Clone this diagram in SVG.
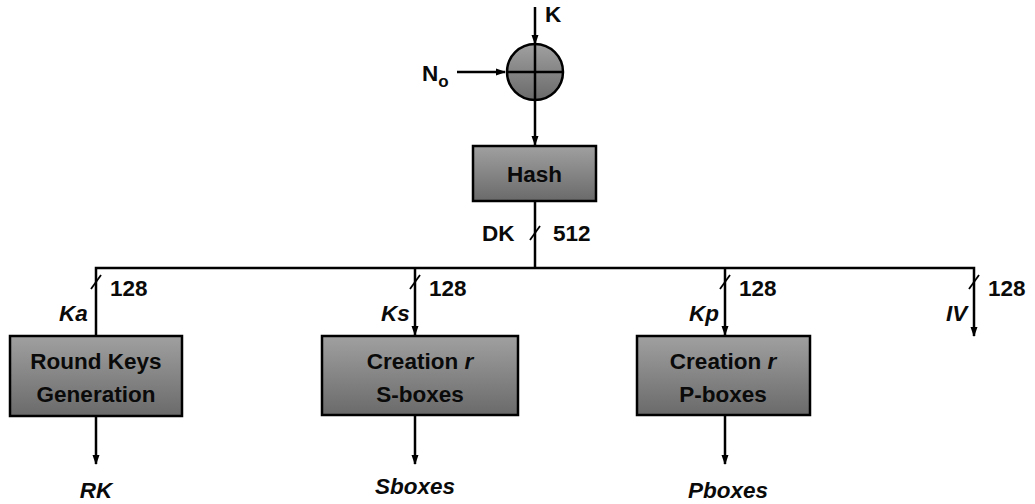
<svg xmlns="http://www.w3.org/2000/svg" width="1035" height="504" viewBox="0 0 1035 504">
<defs>
<linearGradient id="g" x1="0" y1="0" x2="0" y2="1">
<stop offset="0" stop-color="#a0a0a0"/>
<stop offset="1" stop-color="#6a6a6a"/>
</linearGradient>
<marker id="ah" viewBox="0 0 10 10" refX="9" refY="5" markerWidth="10" markerHeight="10" markerUnits="userSpaceOnUse" orient="auto">
<path d="M0,1.5 L10,5 L0,8.5 Z" fill="#000"/>
</marker>
</defs>
<style>
.box{fill:url(#g);stroke:#000;stroke-width:2.5}
.ln{stroke:#000;stroke-width:2.5;fill:none}
.sl{stroke:#000;stroke-width:1.8;fill:none}
.t{font-family:"Liberation Sans",Arial,sans-serif;font-weight:bold;font-size:22.5px;fill:#0a0a0a}
.c{text-anchor:middle}
.i{font-style:italic}
</style>
<rect width="1035" height="504" fill="#fff"/>
<g id="connectors">
<line class="ln" x1="535" y1="7" x2="535" y2="44" marker-end="url(#ah)"/>
<line class="ln" x1="457" y1="72" x2="505" y2="72" marker-end="url(#ah)"/>
<line class="ln" x1="535" y1="100" x2="535" y2="145" marker-end="url(#ah)"/>
<line class="ln" x1="535" y1="201" x2="535" y2="268"/>
<line class="sl" x1="530" y1="240" x2="540" y2="226"/>
<polyline class="ln" points="96,335 96,268 974,268 974,336" marker-end="url(#ah)"/>
<line class="ln" x1="415" y1="268" x2="415" y2="335" marker-end="url(#ah)"/>
<line class="ln" x1="725" y1="268" x2="725" y2="335" marker-end="url(#ah)"/>
<line class="sl" x1="91" y1="289" x2="101" y2="275"/>
<line class="sl" x1="410" y1="289" x2="420" y2="275"/>
<line class="sl" x1="720" y1="289" x2="730" y2="275"/>
<line class="sl" x1="969" y1="289" x2="979" y2="275"/>
<line class="ln" x1="96" y1="416" x2="96" y2="464" marker-end="url(#ah)"/>
<line class="ln" x1="415" y1="416" x2="415" y2="464" marker-end="url(#ah)"/>
<line class="ln" x1="725" y1="416" x2="725" y2="464" marker-end="url(#ah)"/>
</g>
<g id="xor">
<circle cx="535" cy="72" r="28" class="box"/>
<line class="ln" x1="507" y1="72" x2="563" y2="72"/>
<line class="ln" x1="535" y1="44" x2="535" y2="100"/>
</g>
<g id="labels-top">
<text class="t" x="545" y="22">K</text>
<text class="t" x="422" y="81">N<tspan font-size="17" dy="6">o</tspan></text>
</g>
<g id="hash">
<rect class="box" x="473" y="146" width="123" height="55"/>
<text class="t c" x="534.5" y="182">Hash</text>
</g>
<g id="dk-labels">
<text class="t" x="482" y="241">DK</text>
<text class="t" x="553" y="241">512</text>
</g>
<g id="round-keys">
<rect class="box" x="10" y="336" width="172" height="80"/>
<text class="t c" x="96" y="369">Round Keys</text>
<text class="t c" x="96" y="402">Generation</text>
</g>
<g id="sboxes">
<rect class="box" x="322" y="336" width="196" height="79"/>
<text class="t c" x="420" y="369">Creation <tspan class="i">r</tspan></text>
<text class="t c" x="420" y="402">S-boxes</text>
</g>
<g id="pboxes">
<rect class="box" x="637" y="336" width="173" height="79"/>
<text class="t c" x="723" y="369">Creation <tspan class="i">r</tspan></text>
<text class="t c" x="723" y="402">P-boxes</text>
</g>
<g id="branch-labels">
<text class="t" x="110" y="296">128</text>
<text class="t" x="429" y="296">128</text>
<text class="t" x="739" y="296">128</text>
<text class="t" x="988" y="296">128</text>
<text class="t i" x="59" y="321">Ka</text>
<text class="t i" x="381" y="321">Ks</text>
<text class="t i" x="689" y="321">Kp</text>
<text class="t i" x="946" y="321">IV</text>
</g>
<g id="outputs">
<text class="t i c" x="96" y="498">RK</text>
<text class="t i c" x="415" y="494">Sboxes</text>
<text class="t i c" x="728" y="498">Pboxes</text>
</g>
</svg>
